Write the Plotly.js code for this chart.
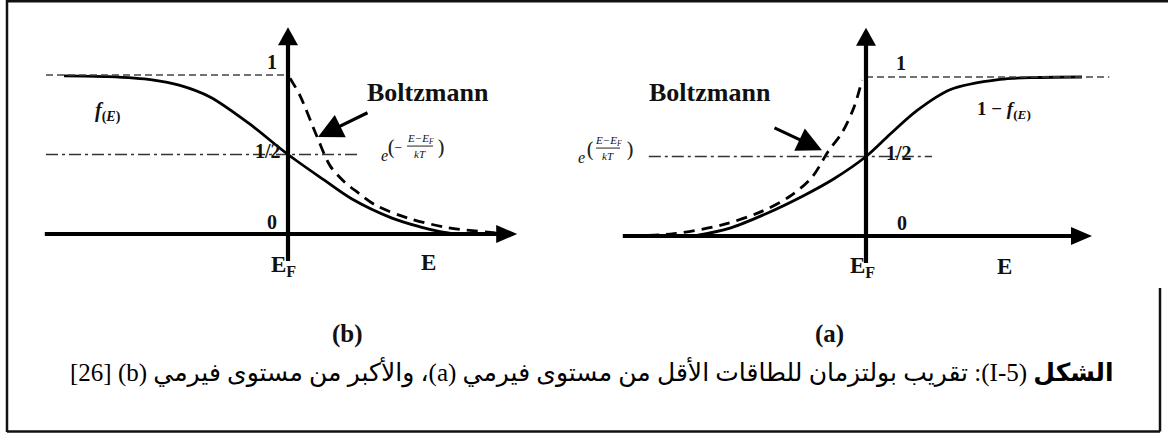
<!DOCTYPE html>
<html>
<head>
<meta charset="utf-8">
<script src="https://cdn.plot.ly/plotly-3.0.1.min.js"></script>
<style>
  html, body { margin: 0; padding: 0; background: #fff; }
  #fig { width: 1168px; height: 434px; }
</style>
</head>
<body>
<div id="fig"></div>
<script>
// Energy is measured from E_F (in kT units); y is the occupation probability.

// (b) energies above E_F: Fermi-Dirac f(E) and its Boltzmann tail
const fermiB_E = [-5.6, -4.5, -3.4, -2.7, -1.95, -1.0, 0, 0.9, 1.6, 2.6, 3.3, 3.8, 4.2];
const fermiB_f = [0.995, 0.99, 0.97, 0.935, 0.862, 0.70, 0.5, 0.34, 0.22, 0.10, 0.045, 0.015, 0.0];
const boltzB_E = [0.05, 0.3, 0.73, 1.05, 1.4, 1.75, 2.2, 3.0, 4.0, 5.0, 5.5];
const boltzB_f = [0.98, 0.87, 0.61, 0.43, 0.33, 0.26, 0.18, 0.10, 0.04, 0.012, 0.0];

// (a) energies below E_F: 1 - f(E) and its Boltzmann tail
const holeA_E = [-4.3, -3.4, -2.5, -1.55, -0.8, 0, 0.6, 1.28, 2.1, 3.35, 4.3, 5.4];
const holeA_f = [0.0, 0.05, 0.14, 0.255, 0.36, 0.5, 0.64, 0.79, 0.92, 0.985, 0.997, 1.0];
const boltzA_E = [-5.9, -4.8, -3.6, -2.65, -1.9, -1.35, -0.95, -0.6, -0.3, -0.1];
const boltzA_f = [0.0, 0.015, 0.07, 0.15, 0.25, 0.37, 0.53, 0.65, 0.81, 0.98];

// reference levels
const levelOne = 1;
const levelHalf = 0.5;

// text
const tickOne = '1', tickHalf = '1/2', tickZero = '0';
const labelEF = 'E<sub>F</sub>', labelE = 'E', labelBoltz = 'Boltzmann';
const labelF = '<i>f</i><sub>(<i>E</i>)</sub>';
const labelHole = '1 − <i>f</i><sub>(<i>E</i>)</sub>';
const panelTags = ['(b)', '(a)'];
const caption = '\u202B<b>الشكل</b> (I-5): تقريب بولتزمان للطاقات الأقل من مستوى فيرمي (a)، والأكبر من مستوى فيرمي (b) [26]\u202C';

// ---- page geometry ----
const W = 1168, H = 434;
const UX = 40, UY = 159;               // pixels per kT and per unit probability
const orgB = { x: 288, y: 234 };       // origin of panel (b)
const orgA = { x: 866, y: 236 };       // origin of panel (a)
const rangeX = o => [-o.x / UX, (W - o.x) / UX];
const rangeY = o => [(o.y - H) / UY, o.y / UY];

const ink = '#111';
const serif = 'Liberation Serif, DejaVu Serif, serif';

function curve(x, y, xa, ya, dash) {
  return {
    type: 'scatter', mode: 'lines', x: x, y: y, xaxis: xa, yaxis: ya,
    line: { color: '#000', width: 2.8, shape: 'spline', smoothing: 0.9, dash: dash || 'solid' },
    hoverinfo: 'skip', showlegend: false
  };
}

const traces = [
  curve(fermiB_E, fermiB_f, 'x', 'y'),
  curve(boltzB_E, boltzB_f, 'x', 'y', '11px,7px'),
  curve(holeA_E, holeA_f, 'x2', 'y2'),
  curve(boltzA_E, boltzA_f, 'x2', 'y2', '11px,7px')
];

// ---- axes with arrow heads, guide lines ----
const shapes = [];
function seg(xr, yr, x0, y0, x1, y1, style) {
  shapes.push({ type: 'line', xref: xr, yref: yr, x0: x0, y0: y0, x1: x1, y1: y1, line: style });
}
function tri(xr, yr, pts) {
  shapes.push({
    type: 'path', xref: xr, yref: yr, fillcolor: '#000', line: { width: 0 },
    path: 'M' + pts.map(p => p[0] + ',' + p[1]).join('L') + 'Z'
  });
}
function axesArrows(xr, yr, xFrom, xTip, yFrom, yTip) {
  const axisLine = { color: '#000', width: 4.2 };
  const hLen = 21 / UX, hHalf = 9 / UY;     // horizontal head
  const vLen = 18 / UY, vHalf = 10 / UX;    // vertical head
  seg(xr, yr, xFrom, 0, xTip - hLen * 0.8, 0, axisLine);
  tri(xr, yr, [[xTip, 0], [xTip - hLen, hHalf], [xTip - hLen, -hHalf]]);
  seg(xr, yr, 0, yFrom, 0, yTip - vLen * 0.8, axisLine);
  tri(xr, yr, [[0, yTip], [-vHalf, yTip - vLen], [vHalf, yTip - vLen]]);
}
const guideDash = { color: '#444', width: 1.6, dash: '7px,4px' };
const guideDashDot = { color: '#333', width: 1.6, dash: '12px,4px,3px,4px' };

// panel (b)
seg('x', 'y', -6.05, levelOne, 0, levelOne, guideDash);
seg('x', 'y', -6.05, levelHalf, 1.75, levelHalf, guideDashDot);
axesArrows('x', 'y', -6.08, 5.73, -0.17, 1.30);
// panel (a)
seg('x2', 'y2', 0, levelOne, 6.08, levelOne, guideDash);
seg('x2', 'y2', -5.43, levelHalf, 1.65, levelHalf, guideDashDot);
axesArrows('x2', 'y2', -6.08, 5.65, -0.17, 1.31);

// fraction bars of the exponent labels
seg('x', 'y', 2.975, 0.553, 3.625, 0.553, { color: '#222', width: 1 });
seg('x2', 'y2', -6.75, 0.553, -6.15, 0.553, { color: '#222', width: 1 });

// outer frame
const pw = v => v / W, ph = v => 1 - v / H;
const frame = { color: '#111', width: 2.5 };
seg('paper', 'paper', pw(6), ph(1.3), 1, ph(1.3), frame);
seg('paper', 'paper', pw(7), ph(0), pw(7), ph(432), frame);
seg('paper', 'paper', pw(7), ph(431.5), pw(1160), ph(431.5), frame);
seg('paper', 'paper', pw(1160), ph(288), pw(1160), ph(431.5), frame);

// ---- text ----
const ann = [];
function txt(text, x, y, xr, yr, size, opt) {
  ann.push(Object.assign({
    text: text, x: x, y: y, xref: xr, yref: yr, showarrow: false,
    font: { family: serif, size: size, color: ink, weight: 'bold' }
  }, opt || {}));
}
function pointer(x, y, xr, yr, ax, ay) {
  ann.push({
    text: '', x: x, y: y, xref: xr, yref: yr, showarrow: true, ax: ax, ay: ay,
    arrowhead: 2, arrowsize: 1.55, arrowwidth: 3.2, arrowcolor: '#000', standoff: 0
  });
}
function expLabel(x, y, xr, yr, neg) {
  const it = (s, dx, dy, size) => txt(s, x, y, xr, yr, size,
    { xshift: dx, yshift: dy, font: { family: serif, size: size, color: ink, style: 'italic' } });
  const up = (s, dx, dy, size) => txt(s, x, y, xr, yr, size,
    { xshift: dx, yshift: dy, font: { family: 'DejaVu Serif, serif', size: size, color: '#222', weight: 'normal' } });
  if (neg) {
    it('e', -29, -7, 16);
    up('(', -22, 0, 21);
    up('−', -15, 1, 10);
    it('E−E<sub>F</sub>', 7, 9, 11);
    it('kT', 7, -6, 11);
    up(')', 28, 0, 21);
  } else {
    it('e', -27, -7, 16);
    up('(', -18, 0, 21);
    it('E−E<sub>F</sub>', 0, 9, 11);
    it('kT', 0, -6, 11);
    up(')', 22, 0, 21);
  }
}

// panel (b)
txt(tickOne, -0.4, 1.08, 'x', 'y', 20);
txt(tickHalf, -0.5, 0.52, 'x', 'y', 20);
txt(tickZero, -0.4, 0.075, 'x', 'y', 20);
txt(labelEF, -0.12, -0.2, 'x', 'y', 23);
txt(labelE, 3.5, -0.18, 'x', 'y', 23);
txt(labelBoltz, 3.5, 0.89, 'x', 'y', 26);
txt(labelF, -4.5, 0.77, 'x', 'y', 20);
pointer(0.75, 0.61, 'x', 'y', 51, -25);
expLabel(3.125, 0.54, 'x', 'y', true);

// panel (a)
txt(tickOne, 0.875, 1.09, 'x2', 'y2', 20);
txt(tickHalf, 0.83, 0.52, 'x2', 'y2', 20);
txt(tickZero, 0.9, 0.08, 'x2', 'y2', 20);
txt(labelEF, -0.1, -0.195, 'x2', 'y2', 23);
txt(labelE, 3.45, -0.19, 'x2', 'y2', 23);
txt(labelBoltz, -3.9, 0.9, 'x2', 'y2', 26);
txt(labelHole, 3.45, 0.79, 'x2', 'y2', 19);
pointer(-1.1, 0.54, 'x2', 'y2', -49, -23);
expLabel(-6.45, 0.54, 'x2', 'y2', false);

// panel tags and caption
txt(panelTags[0], pw(330), ph(350), 'paper', 'paper', 25);
txt(panelTags[1], pw(846), ph(350), 'paper', 'paper', 25);
txt(caption, pw(592), ph(390), 'paper', 'paper', 25,
  { font: { family: 'Liberation Serif, DejaVu Sans, sans-serif', size: 25, color: '#000', weight: 'normal' } });

const hidden = { visible: false, showgrid: false, zeroline: false, fixedrange: true };
const layout = {
  width: W, height: H, margin: { l: 0, r: 0, t: 0, b: 0 },
  paper_bgcolor: '#fff', plot_bgcolor: 'rgba(0,0,0,0)',
  showlegend: false,
  xaxis: Object.assign({ range: rangeX(orgB) }, hidden),
  yaxis: Object.assign({ range: rangeY(orgB) }, hidden),
  xaxis2: Object.assign({ range: rangeX(orgA), overlaying: 'x' }, hidden),
  yaxis2: Object.assign({ range: rangeY(orgA), overlaying: 'y' }, hidden),
  shapes: shapes,
  annotations: ann
};

Plotly.newPlot('fig', traces, layout, { displayModeBar: false, staticPlot: true });
</script>
</body>
</html>
